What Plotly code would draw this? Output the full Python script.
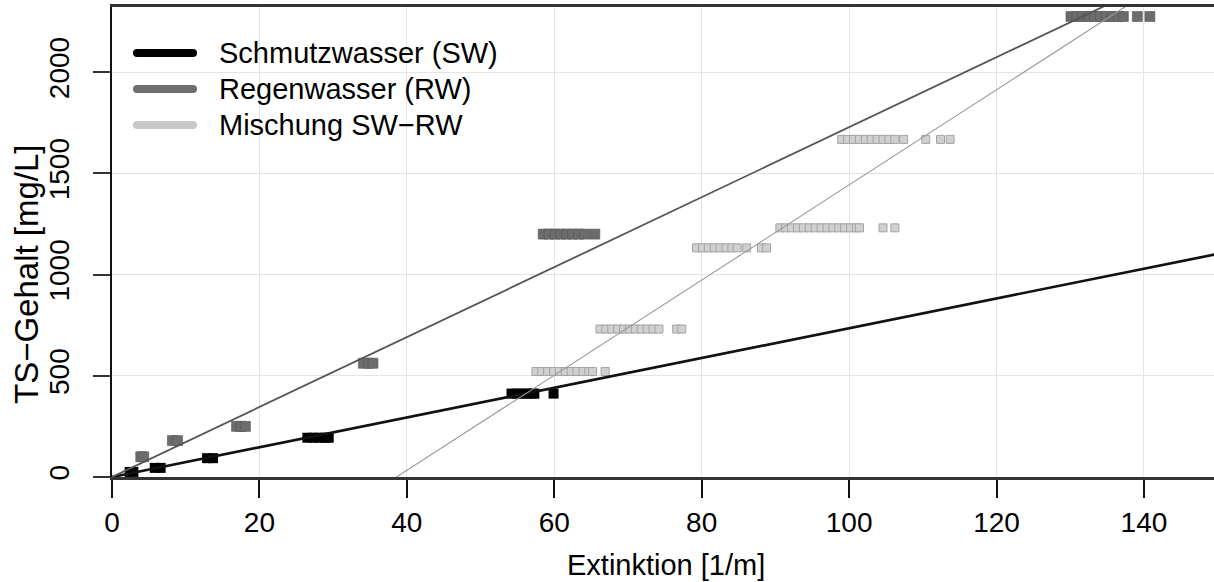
import plotly.graph_objects as go

# ---------------- data ----------------
x_ticks = [0, 20, 40, 60, 80, 100, 120, 140]
y_ticks = [0, 500, 1000, 1500, 2000]

sw_x = [2.4, 2.9, 5.8, 6.6, 12.9, 13.7,
        26.5, 27.3, 28.1, 28.9, 29.4,
        54.2, 54.9, 55.6, 56.3, 57.0, 57.3, 59.9]
sw_y = [25, 25, 45, 45, 93, 93,
        194, 194, 194, 194, 194,
        412, 412, 412, 412, 412, 412, 412]

rw_x = [3.9, 4.3, 8.2, 8.9, 16.9, 17.5, 18.1, 34.1, 34.8, 35.4,
        58.5, 59.3, 60.1, 60.9, 61.7, 62.5, 63.3, 64.1, 65.5,
        130.1, 130.9, 131.7, 132.5, 133.3, 134.1, 134.9, 135.7, 136.5, 137.2,
        139.1, 140.8]
rw_y = [100, 100, 180, 180, 250, 250, 250, 562, 562, 562,
        1200, 1200, 1200, 1200, 1200, 1200, 1200, 1200, 1200,
        2275, 2275, 2275, 2275, 2275, 2275, 2275, 2275, 2275, 2275,
        2275, 2275]

mix_x = [57.5, 58.3, 59.1, 59.9, 60.7, 61.5, 62.3, 63.1, 63.9, 64.7, 65.2, 66.9,
         66.2, 67.0, 67.8, 68.6, 69.4, 70.2, 71.0, 71.8, 72.6, 73.4, 74.2, 76.6, 77.3,
         79.3, 80.1, 80.9, 81.7, 82.5, 83.3, 84.1, 84.8, 86.1, 88.1, 88.8,
         90.6, 91.4, 92.2, 93.0, 93.8, 94.6, 95.4, 96.2, 97.0, 97.8, 98.6, 99.4,
         100.2, 101.0, 101.4, 104.6, 106.2,
         99.0, 99.8, 100.6, 101.4, 102.2, 103.0, 103.8, 104.6, 105.4, 106.2,
         107.4, 110.4, 112.4, 113.7]
mix_y = [521] * 12 + [731] * 13 + [1132] * 11 + [1231] * 17 + [1668] * 14

# regression lines: (slope, intercept)
sw_fit = (7.35, 0.0)
rw_fit = (17.28, 0.0)
mix_fit = (23.5, -907.0)
fit_x_end = 150.0

legend_labels = ["Schmutzwasser (SW)", "Regenwasser (RW)", "Mischung SW\u2212RW"]

# ---------------- figure ----------------
W, H = 1214, 582
L, R, T, B = 112, 0, 7, 105
pw, ph = W - L - R, H - T - B
xr = [0, 149.5]
yr = [0, 2322]

FONT = "Liberation Sans, Arial, sans-serif"

fig = go.Figure()

fig.add_trace(go.Scatter(x=sw_x, y=sw_y, mode="markers",
                         marker=dict(symbol="square", size=10, color="#000000",
                                     line=dict(width=0)), showlegend=False))
fig.add_trace(go.Scatter(x=rw_x, y=rw_y, mode="markers",
                         marker=dict(symbol="square", size=10, color="#6c6c6c",
                                     line=dict(width=0.6, color="#555555")), showlegend=False))
fig.add_trace(go.Scatter(x=mix_x, y=mix_y, mode="markers",
                         marker=dict(symbol="square", size=8, color="#d0d0d0",
                                     line=dict(width=1, color="#a4a4a4")), showlegend=False))


def fit_line(fit, x0):
    s, b = fit
    return [x0, fit_x_end], [s * x0 + b, s * fit_x_end + b]


lx, ly = fit_line(sw_fit, 0.0)
fig.add_trace(go.Scatter(x=lx, y=ly, mode="lines", line=dict(color="#111111", width=2.6),
                         showlegend=False))
lx, ly = fit_line(rw_fit, 0.0)
fig.add_trace(go.Scatter(x=lx, y=ly, mode="lines", line=dict(color="#555555", width=1.8),
                         showlegend=False))
lx, ly = fit_line(mix_fit, -mix_fit[1] / mix_fit[0])
fig.add_trace(go.Scatter(x=lx, y=ly, mode="lines", line=dict(color="#9a9a9a", width=1.1),
                         showlegend=False))


def px_x(p):
    return (p - L) / pw


def px_y(p):
    return (H - B - p) / ph


shapes = []
annotations = []
leg_cols = ["#000000", "#6e6e6e", "#c8c8c8"]
leg_y = [53, 89, 125]
for lab, col, yy in zip(legend_labels, leg_cols, leg_y):
    shapes.append(dict(type="line", xref="paper", yref="paper",
                       x0=px_x(137), x1=px_x(193), y0=px_y(yy), y1=px_y(yy),
                       line=dict(color=col, width=8)))
    for cx in (137, 193):
        shapes.append(dict(type="circle", xref="paper", yref="paper",
                           x0=px_x(cx - 4), x1=px_x(cx + 4), y0=px_y(yy + 4), y1=px_y(yy - 4),
                           fillcolor=col, line=dict(width=0)))
    annotations.append(dict(text=lab, xref="paper", yref="paper", x=px_x(217), y=px_y(yy),
                            xanchor="left", yanchor="middle", showarrow=False,
                            font=dict(size=29, color="#000000", family=FONT)))

# axis titles
annotations.append(dict(text="Extinktion [1/m]", xref="paper", yref="paper",
                        x=px_x(666), y=px_y(565), xanchor="center", yanchor="middle",
                        showarrow=False, font=dict(size=29, color="#000000", family=FONT)))
annotations.append(dict(text="TS\u2212Gehalt [mg/L]", xref="paper", yref="paper",
                        x=px_x(26), y=px_y(274), xanchor="center", yanchor="middle",
                        textangle=-90, showarrow=False,
                        font=dict(size=33, color="#000000", family=FONT)))

fig.update_layout(
    width=W, height=H,
    margin=dict(l=L, r=R, t=T, b=B, pad=0),
    paper_bgcolor="white", plot_bgcolor="white",
    font=dict(family=FONT, size=28, color="#000000"),
    shapes=shapes, annotations=annotations,
    showlegend=False,
)
fig.update_xaxes(range=xr, tickvals=x_ticks, ticktext=[str(v) for v in x_ticks],
                 ticks="outside", ticklen=18, tickwidth=2, tickcolor="#111111",
                 showgrid=True, gridcolor="#e4e4e4", gridwidth=1,
                 zeroline=False, showline=True, linecolor="#333333", linewidth=3,
                 mirror=True, tickfont=dict(size=28, family=FONT, color="#000000"))
fig.update_yaxes(range=yr, tickvals=y_ticks, ticktext=[str(v) for v in y_ticks],
                 ticks="outside", ticklen=17, tickwidth=2, tickcolor="#333333",
                 tickangle=-90, ticklabelstandoff=13,
                 showgrid=True, gridcolor="#e4e4e4", gridwidth=1,
                 zeroline=False, showline=True, linecolor="#111111", linewidth=2,
                 mirror=False, tickfont=dict(size=28, family=FONT, color="#000000"))

fig.write_html("out.html", config={"displayModeBar": False},
               post_script="document.body.style.margin='0px';document.body.style.overflow='hidden';")
